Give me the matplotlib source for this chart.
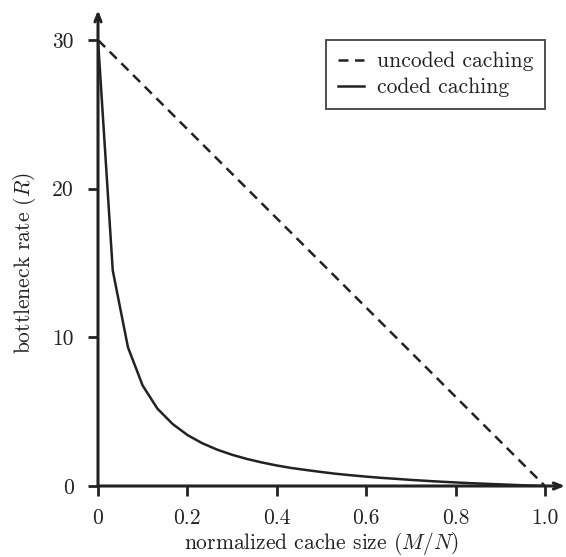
import matplotlib.pyplot as plt
from matplotlib.ticker import FixedLocator, FixedFormatter

plt.rcParams['font.family'] = 'serif'
plt.rcParams['font.serif'] = ['cmr10', 'DejaVu Serif']
plt.rcParams['mathtext.fontset'] = 'cm'
plt.rcParams['axes.formatter.use_mathtext'] = True

# values
cache_size = [0.0, 0.033, 0.067, 0.1, 0.133, 0.167, 0.2, 0.233, 0.267, 0.3,
              0.333, 0.367, 0.4, 0.433, 0.467, 0.5, 0.533, 0.567, 0.6, 0.633,
              0.667, 0.7, 0.733, 0.767, 0.8, 0.833, 0.867, 0.9, 0.933, 0.967, 1.0]
coded_rate = [30.0, 14.5, 9.33, 6.75, 5.2, 4.17, 3.43, 2.88, 2.44, 2.1,
              1.82, 1.58, 1.38, 1.21, 1.07, 0.94, 0.82, 0.72, 0.63, 0.55,
              0.48, 0.41, 0.35, 0.29, 0.24, 0.19, 0.15, 0.11, 0.07, 0.03, 0.0]
uncoded_x = [0.0, 1.0]
uncoded_rate = [30.0, 0.0]

x_ticks = [0, 0.2, 0.4, 0.6, 0.8, 1.0]
x_labels = ['0', '0.2', '0.4', '0.6', '0.8', '1.0']
y_ticks = [0, 10, 20, 30]
y_labels = ['0', '10', '20', '30']

fs = 15.5
fig = plt.figure(figsize=(5.66, 5.57), dpi=100)
ax = fig.add_axes([98/566, 71/557, 447/566, 446/557])

c = '#222222'
ax.plot(uncoded_x, uncoded_rate, color=c, lw=1.8, ls=(0, (4, 2.6)), label='uncoded caching')
ax.plot(cache_size, coded_rate, color=c, lw=1.8, label='coded caching')

ax.set_xlim(0, 1)
ax.set_ylim(0, 30)
for s in ax.spines.values():
    s.set_visible(False)

# axes with arrow heads
arrow = dict(arrowstyle='->,head_length=0.55,head_width=0.22', lw=2.2, color=c,
             shrinkA=0, shrinkB=0)
ax.annotate('', xy=(1.045, 0), xytext=(0, 0), xycoords='axes fraction',
            arrowprops=arrow, annotation_clip=False)
ax.annotate('', xy=(0, 1.067), xytext=(0, 0), xycoords='axes fraction',
            arrowprops=arrow, annotation_clip=False)

ax.xaxis.set_major_locator(FixedLocator(x_ticks))
ax.xaxis.set_major_formatter(FixedFormatter(x_labels))
ax.yaxis.set_major_locator(FixedLocator(y_ticks))
ax.yaxis.set_major_formatter(FixedFormatter(y_labels))
ax.tick_params(direction='out', length=7.5, width=2.0, color=c, labelsize=fs, labelcolor=c)
ax.tick_params(axis='x', pad=9)
ax.tick_params(axis='y', pad=10)

ax.set_xlabel('normalized cache size ($M/N$)', fontsize=fs, labelpad=1, color=c)
ax.set_ylabel('bottleneck rate ($R$)', fontsize=fs, labelpad=10, color=c)

leg = ax.legend(loc='upper right', fontsize=fs, frameon=True, fancybox=False,
                edgecolor=c, handlelength=1.2, borderaxespad=0, handletextpad=0.6,
                labelspacing=0.3, borderpad=0.55)
leg.get_frame().set_linewidth(1.4)
for t in leg.get_texts():
    t.set_color(c)

fig.savefig('out.png', dpi=100)
